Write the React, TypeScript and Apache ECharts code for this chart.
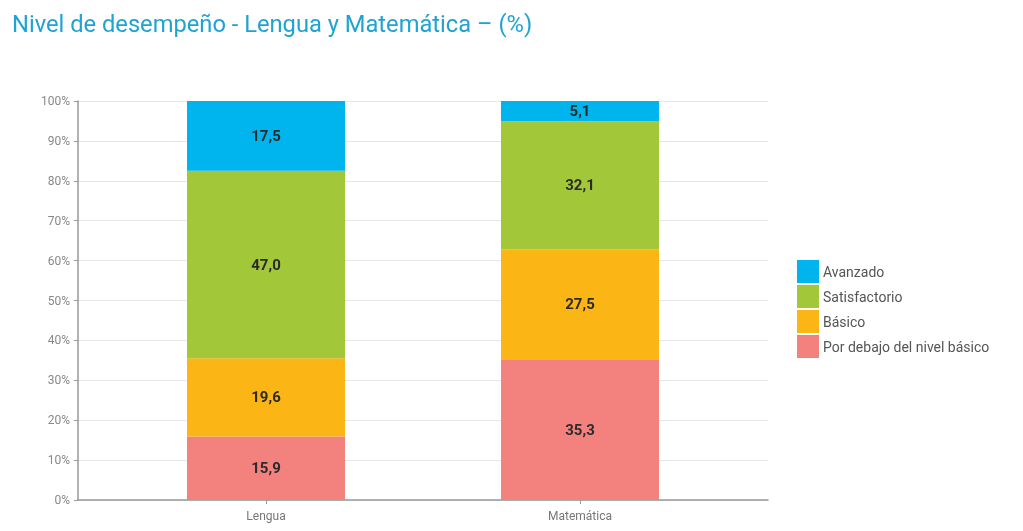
import React, { useEffect, useRef } from "react";
import * as echarts from "echarts";

const categories = ["Lengua", "Matemática"];
const seriesNames = ["Por debajo del nivel básico", "Básico", "Satisfactorio", "Avanzado"];
const porDebajo = [15.9, 35.3];
const basico = [19.6, 27.5];
const satisfactorio = [47.0, 32.1];
const avanzado = [17.5, 5.1];
const colors = ["#F3827F", "#FBB615", "#A2C83A", "#00B5EE"];
const legendOrder = ["Avanzado", "Satisfactorio", "Básico", "Por debajo del nivel básico"];

export default function App() {
  const ref = useRef<HTMLDivElement>(null);
  useEffect(() => {
    if (!ref.current) return;
    const chart = echarts.init(ref.current, null, { renderer: "svg" });
    const values = [porDebajo, basico, satisfactorio, avanzado];
    chart.setOption({
      animation: false,
      title: {
        text: "Nivel de desempeño - Lengua y Matemática – (%)",
        left: 7,
        top: 7,
        textStyle: {
          fontFamily: "Roboto, sans-serif",
          fontSize: 23.7,
          fontWeight: "normal",
          color: "#1FA3D2",
        },
      },
      legend: {
        orient: "vertical",
        left: 792,
        top: 255,
        itemWidth: 22,
        itemHeight: 23,
        itemGap: 2,
        icon: "rect",
        data: legendOrder,
        textStyle: { color: "#555", fontSize: 14, fontFamily: "Roboto, sans-serif", padding: [0, 0, 0, -1] },
        selectedMode: false,
      },
      grid: [
        { left: 78, right: 255, top: 101, bottom: 31 },
        { left: 109, right: 286, top: 101, bottom: 31 },
      ],
      xAxis: [
        {
          gridIndex: 0,
          type: "category",
          data: [""],
          axisLine: { lineStyle: { color: "#999", width: 1.5 } },
          axisTick: { show: false },
          axisLabel: { show: false },
        },
        {
          gridIndex: 1,
          type: "category",
          data: categories,
          axisLine: { show: false },
          axisTick: { show: true, alignWithLabel: true, length: 4, lineStyle: { color: "#999" } },
          axisLabel: { color: "#777", fontSize: 12, fontFamily: "Roboto, sans-serif", margin: 10 },
        },
      ],
      yAxis: [
        {
          gridIndex: 0,
          type: "value",
          min: 0,
          max: 100,
          interval: 10,
          axisLine: { show: true, lineStyle: { color: "#999", width: 1.5 } },
          axisTick: { show: true, length: 4, lineStyle: { color: "#999" } },
          axisLabel: { color: "#888", fontSize: 12, fontFamily: "Roboto, sans-serif", formatter: "{value}%", margin: 8 },
          splitLine: { lineStyle: { color: "#e6e6e6" } },
        },
        {
          gridIndex: 1,
          type: "value",
          min: 0,
          max: 100,
          interval: 10,
          show: false,
          splitLine: { show: false },
        },
      ],
      series: seriesNames.map((name, i) => ({
        name,
        type: "bar",
        stack: "total",
        xAxisIndex: 1,
        yAxisIndex: 1,
        barWidth: 158,
        data: values[i],
        itemStyle: { color: colors[i] },
        label: {
          show: true,
          position: "inside",
          color: "#2b2b2b",
          fontSize: 15,
          fontWeight: "bold",
          fontFamily: "Roboto, sans-serif",
          formatter: (p: any) => p.value.toFixed(1).replace(".", ","),
        },
      })),
    });
    return () => chart.dispose();
  }, []);
  return <div ref={ref} style={{ position: "fixed", left: 0, top: 0, width: 1023, height: 531 }} />;
}
